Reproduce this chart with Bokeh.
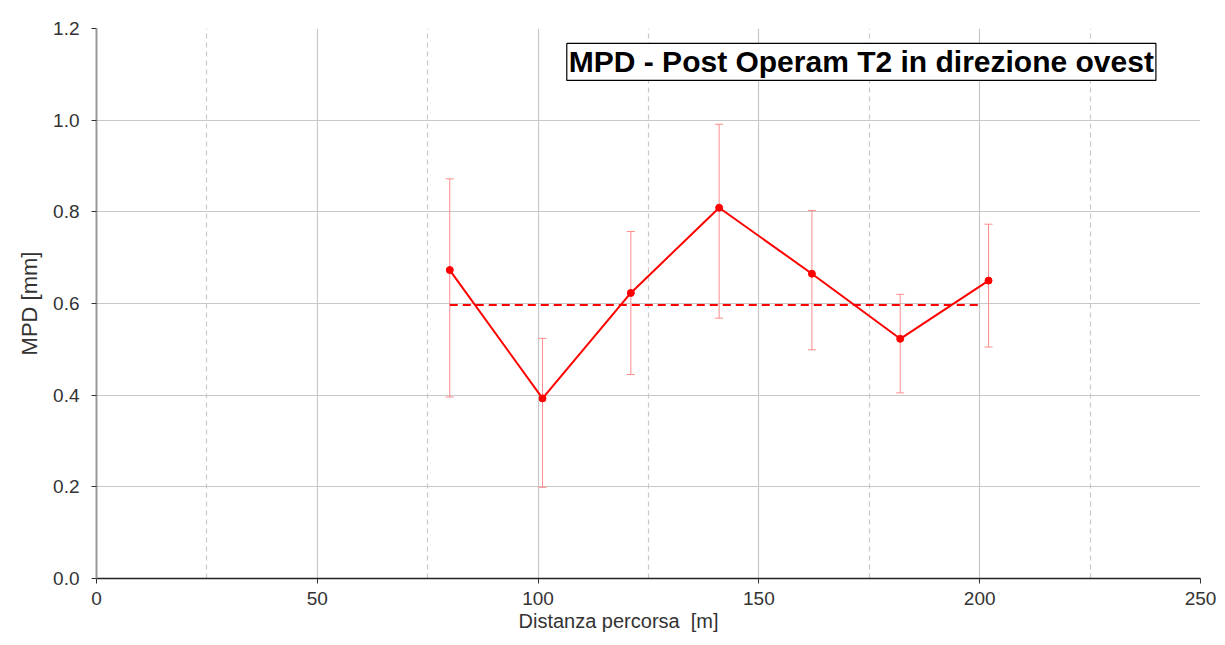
from bokeh.plotting import figure
from bokeh.models import (ColumnDataSource, Whisker, TeeHead, Grid, FixedTicker, Label,
                          Range1d, NumeralTickFormatter, Title)
from bokeh.embed import file_html
from bokeh.resources import INLINE

# data
distance = [80, 101, 121, 141, 162, 182, 202]
mpd = [0.673, 0.393, 0.623, 0.809, 0.665, 0.523, 0.650]
mpd_upper = [0.872, 0.524, 0.757, 0.991, 0.803, 0.620, 0.773]
mpd_lower = [0.396, 0.199, 0.445, 0.568, 0.499, 0.405, 0.505]
mean_x = [80, 200]
mean_value = 0.597
x_ticks = [0, 50, 100, 150, 200, 250]
x_minor = [25, 75, 125, 175, 225]
y_ticks = [0.0, 0.2, 0.4, 0.6, 0.8, 1.0, 1.2]
title_text = "MPD - Post Operam T2 in direzione ovest"
x_label_text = "Distanza percorsa\u00a0 [m]"
y_label_text = "MPD [mm]"

FONT = "Liberation Sans"

p = figure(width=1217, height=637, output_backend="svg", toolbar_location=None,
           x_range=Range1d(0, 250), y_range=Range1d(0, 1.2),
           min_border_left=96, min_border_right=17, min_border_top=28, min_border_bottom=59)
p.outline_line_color = None
p.background_fill_color = "white"

# axes
p.xaxis.ticker = FixedTicker(ticks=x_ticks)
p.yaxis.ticker = FixedTicker(ticks=y_ticks)
p.yaxis.formatter = NumeralTickFormatter(format="0.0")
p.yaxis.axis_label = y_label_text
for ax in (p.xaxis, p.yaxis):
    ax.axis_label_text_font = FONT
    ax.axis_label_text_font_style = "normal"
    ax.axis_label_text_font_size = "22px"
    ax.axis_label_text_color = "#333333"
    ax.major_label_text_font = FONT
    ax.major_label_text_font_size = "19px"
    ax.major_label_text_color = "#333333"
    ax.minor_tick_line_color = None
    ax.major_tick_out = 5
    ax.major_tick_in = 0
    ax.major_tick_line_color = "#333333"
p.xaxis.axis_line_color = "#222222"
p.xaxis.axis_line_width = 1.5
p.yaxis.axis_line_color = "#999999"
p.yaxis.axis_line_width = 2
p.xaxis.major_label_standoff = 8
p.yaxis.major_label_standoff = 12
p.yaxis.axis_label_standoff = 8

# grids
p.ygrid.grid_line_color = "#c8c8c8"
p.ygrid.grid_line_width = 1.2
p.xgrid.ticker = FixedTicker(ticks=[50, 100, 150, 200])
p.xgrid.grid_line_color = "#c8c8c8"
p.xgrid.grid_line_width = 1.2
minor_grid = Grid(dimension=0, ticker=FixedTicker(ticks=x_minor),
                  grid_line_color="#c8c8c8", grid_line_dash="5 4", grid_line_width=1.2)
p.add_layout(minor_grid)

src = ColumnDataSource(dict(x=distance, y=mpd, upper=mpd_upper, lower=mpd_lower))

# error bars
w = Whisker(base="x", upper="upper", lower="lower", source=src,
            line_color="#ff8c8c", line_width=1,
            upper_head=TeeHead(size=8, line_color="#ff8c8c", line_width=1),
            lower_head=TeeHead(size=8, line_color="#ff8c8c", line_width=1))
p.add_layout(w)

# mean line
p.line(x=mean_x, y=[mean_value, mean_value], line_color="red", line_width=2, line_dash="8 5")

# main series
p.line(x="x", y="y", source=src, line_color="red", line_width=2)
p.scatter(x="x", y="y", source=src, size=7, color="red")

# x axis label (slightly left of centre, as in the original)
xlab = Title(text=x_label_text, align="left", offset=422, standoff=0,
             text_font=FONT, text_font_size="20px", text_font_style="normal",
             text_color="#333333")
p.add_layout(xlab, "below")

# title box
title = Label(x=173.2, y=1.127, text=title_text, text_align="center", text_baseline="middle",
              text_font=FONT, text_font_style="bold", text_font_size="30px", text_color="black",
              background_fill_color="white", border_line_color="black", border_line_width=1.2,
              padding=2)
p.add_layout(title)

open("out.html", "w").write(file_html(p, INLINE))
